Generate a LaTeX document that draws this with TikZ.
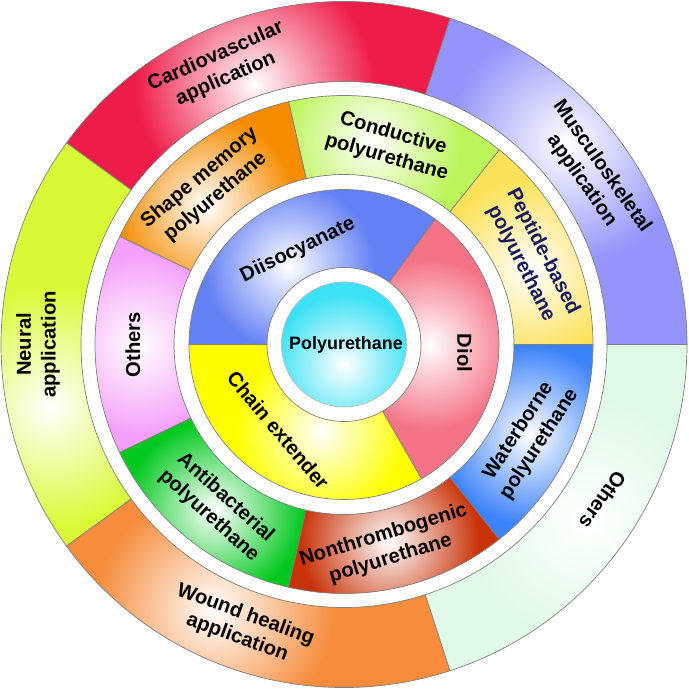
\documentclass[tikz,border=0pt]{standalone}
\usepackage{fontspec}
\setmainfont{Liberation Sans}

\definecolor{muscol}{RGB}{148,148,250}
\definecolor{cardcol}{RGB}{238,28,72}
\definecolor{neurcol}{RGB}{218,250,55}
\definecolor{woundcol}{RGB}{246,140,60}
\definecolor{othcol}{RGB}{225,250,232}
\definecolor{pepcol}{RGB}{252,226,90}
\definecolor{condcol}{RGB}{188,245,90}
\definecolor{shapecol}{RGB}{246,140,0}
\definecolor{othmidcol}{RGB}{245,160,250}
\definecolor{antcol}{RGB}{0,200,30}
\definecolor{noncol}{RGB}{200,50,8}
\definecolor{watcol}{RGB}{60,130,250}
\definecolor{diisocol}{RGB}{100,128,245}
\definecolor{diolcol}{RGB}{245,115,135}
\definecolor{chaincol}{RGB}{255,255,0}
\definecolor{pucol}{RGB}{60,225,245}
\definecolor{pepfont}{RGB}{25,25,95}

\begin{document}
\begin{tikzpicture}[
    seglabel/.style={
        align=center,
        inner sep=0pt,
        font=\bfseries\fontsize{11.5}{14}\selectfont},
    corelabel/.style={
        inner sep=0pt,
        font=\bfseries\fontsize{10.2}{12}\selectfont},
    segborder/.style={
        draw=gray,
        line width=0.4pt},
    glow/.style={
        inner color=white,
        outer color=#1}
]

\useasboundingbox (-6.88,-6.89) rectangle (6.88,6.89);

% outer ring
\foreach \a/\b/\c/\ga/\gr in {0/72/muscol/42/6.0, 72/144/cardcol/109/5.5, 144/216/neurcol/192/6.0, 216/288/woundcol/244/5.9, 288/360/othcol/324/6.0}{
    \begin{scope}
        \clip (\a:6.86) arc[start angle=\a, end angle=\b, radius=6.86] -- (\b:5.26) arc[start angle=\b, end angle=\a, radius=5.26] -- cycle;
        \fill[\c] (0,0) circle (7);
        \shade[glow=\c] (\ga:\gr) circle (2.4);
    \end{scope}
    \draw[segborder] (\a:6.86) arc[start angle=\a, end angle=\b, radius=6.86] -- (\b:5.26) arc[start angle=\b, end angle=\a, radius=5.26] -- cycle;
}

% middle ring
\foreach \a/\b/\c/\ga/\gr in {0/51.43/pepcol/22/4.0, 51.43/102.86/condcol/82/4.1, 102.86/154.29/shapecol/135/3.9, 154.29/205.71/othmidcol/180/4.1, 205.71/257.14/antcol/232/4.2, 257.14/308.57/noncol/283/4.05, 308.57/360/watcol/334/4.15}{
    \begin{scope}
        \clip (\a:4.98) arc[start angle=\a, end angle=\b, radius=4.98] -- (\b:3.4) arc[start angle=\b, end angle=\a, radius=3.4] -- cycle;
        \fill[\c] (0,0) circle (5);
        \shade[glow=\c] (\ga:\gr) circle (1.8);
    \end{scope}
    \draw[segborder] (\a:4.98) arc[start angle=\a, end angle=\b, radius=4.98] -- (\b:3.4) arc[start angle=\b, end angle=\a, radius=3.4] -- cycle;
}

% inner ring
\foreach \a/\b/\c/\ga/\gr in {54/180/diisocol/125/1.9, -60/54/diolcol/0/1.7, 180/300/chaincol/255/1.8}{
    \begin{scope}
        \clip (\a:3.1) arc[start angle=\a, end angle=\b, radius=3.1] -- (\b:1.54) arc[start angle=\b, end angle=\a, radius=1.54] -- cycle;
        \fill[\c] (0,0) circle (3.2);
        \shade[glow=\c] (\ga:\gr) circle (1.7);
    \end{scope}
    \draw[segborder] (\a:3.1) arc[start angle=\a, end angle=\b, radius=3.1] -- (\b:1.54) arc[start angle=\b, end angle=\a, radius=1.54] -- cycle;
}

% core
\begin{scope}
    \clip (0,0) circle (1.25);
    \fill[pucol] (0,0) circle (1.3);
    \shade[glow=pucol] (0,-0.4) circle (1.4);
\end{scope}
\draw[segborder, draw=gray!50] (0,0) circle (1.25);

\node[seglabel, rotate=-55] (mus) at (34.6:6.02) {Musculoskeletal\\application};
\node[seglabel, rotate=24] (card) at (114:6.06) {Cardiovascular\\application};
\node[seglabel, rotate=90] (neur) at (180:6.12) {Neural\\application};
\node[seglabel, rotate=-20] (wound) at (250:6.0) {Wound healing\\application};
\node[seglabel, rotate=235] (othout) at (329:6.04) {Others};

\node[seglabel, rotate=-63, text=pepfont] (pep) at (24.8:4.14) {Peptide-based\\polyurethane};
\node[seglabel, rotate=-16] (cond) at (77:4.08) {Conductive\\polyurethane};
\node[seglabel, rotate=40] (shape) at (131:4.16) {Shape memory\\polyurethane};
\node[seglabel, rotate=90] (othmid) at (180:4.22) {Others};
\node[seglabel, rotate=-42] (anti) at (232:4.12) {Antibacterial\\polyurethane};
\node[seglabel, rotate=17] (nonth) at (282:4.14) {Nonthrombogenic\\polyurethane};
\node[seglabel, rotate=57] (water) at (333.3:4.14) {Waterborne\\polyurethane};

\node[seglabel, rotate=26] (diiso) at (116:2.1) {Diisocyanate};
\node[seglabel, rotate=-90] (diol) at (-4:2.42) {Diol};
\node[seglabel, rotate=-50] (chain) at (232.5:2.16) {Chain extender};
\node[corelabel] (pu) at (0.04,0) {Polyurethane};

\end{tikzpicture}
\end{document}
